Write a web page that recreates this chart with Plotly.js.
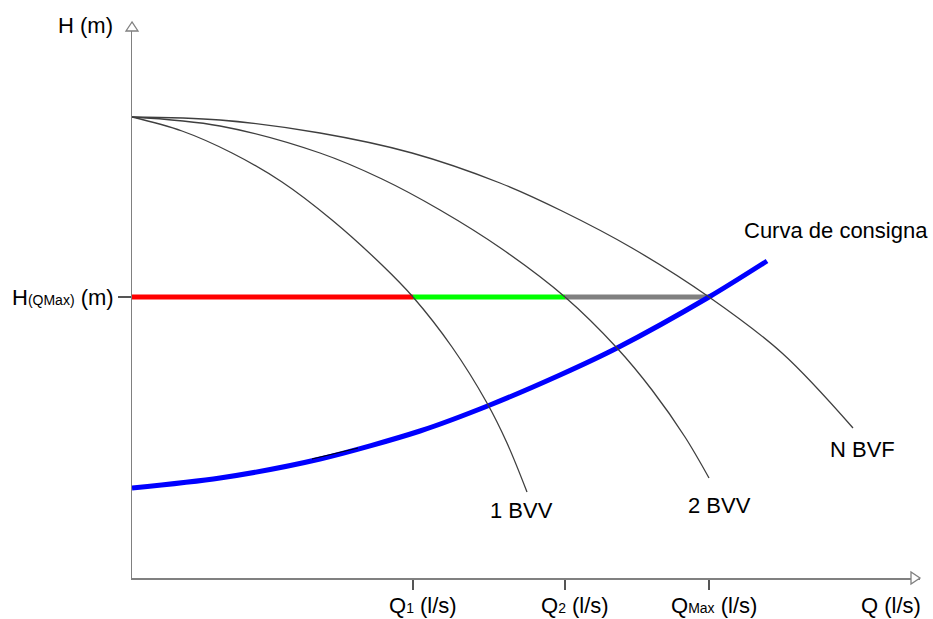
<!DOCTYPE html>
<html>
<head>
<meta charset="utf-8">
<script src="https://cdn.plot.ly/plotly-3.0.1.min.js"></script>
<style>
  html, body { margin: 0; padding: 0; background: #fff; }
  #chart { width: 933px; height: 619px; }
</style>
</head>
<body>
<div id="chart"></div>
<script>
// Operating point values (chart units)
const Q1 = 281;
const Q2 = 433;
const QMAX = 577;
const H_QMAX = 281;

// Pump curves: Q values and H values
const Q_1BVV = [0, 50, 100, 150, 200, 250, 281, 320, 355, 375, 395];
const H_1BVV = [461, 447, 425, 396, 358, 313, 281, 231, 175, 135, 86];

const Q_2BVV = [0, 88, 188, 250, 308, 370, 433, 485, 520, 553, 577];
const H_2BVV = [461, 452, 425, 399, 368, 329, 281, 230, 188, 141, 100];

const Q_NBVF = [0, 88, 188, 280, 368, 430, 500, 577, 650, 721];
const H_NBVF = [461, 458, 445, 425, 395, 367, 330, 281, 225, 150];

// Set-point curve (Curva de consigna)
const Q_CONS = [0, 88, 188, 288, 358, 428, 485, 577, 635];
const H_CONS = [90, 100, 119, 147, 173, 203, 230, 281, 317];

// small stray segment over the set-point curve
const Q_STRAY = [180, 226];
const H_STRAY = [119, 130];

// Horizontal H(QMax) segments
const SEG_RED = [0, Q1];
const SEG_GREEN = [Q1, Q2];
const SEG_GRAY = [Q2, QMAX];

const XTICK_VALS = [Q1, Q2, QMAX];
const YTICK_VALS = [H_QMAX];

const FONT = 'Liberation Sans, Arial, sans-serif';
const CURVE_COLOR = '#3f3f3f';
const AXIS_COLOR = '#808080';

const traces = [
  { x: SEG_RED, y: [H_QMAX, H_QMAX], mode: 'lines', line: { color: '#ff0000', width: 5 } },
  { x: SEG_GREEN, y: [H_QMAX, H_QMAX], mode: 'lines', line: { color: '#00ff00', width: 5 } },
  { x: SEG_GRAY, y: [H_QMAX, H_QMAX], mode: 'lines', line: { color: '#808080', width: 5 } },
  { x: Q_CONS, y: H_CONS, mode: 'lines', line: { color: '#0000ff', width: 5, shape: 'spline', smoothing: 0.8 } },
  { x: Q_STRAY, y: H_STRAY, mode: 'lines', line: { color: '#000000', width: 1 } },
  { x: Q_1BVV, y: H_1BVV, mode: 'lines', line: { color: CURVE_COLOR, width: 1.3, shape: 'spline', smoothing: 1 } },
  { x: Q_2BVV, y: H_2BVV, mode: 'lines', line: { color: CURVE_COLOR, width: 1.3, shape: 'spline', smoothing: 1 } },
  { x: Q_NBVF, y: H_NBVF, mode: 'lines', line: { color: CURVE_COLOR, width: 1.3, shape: 'spline', smoothing: 1 } }
];

const sub = (s) => "<span style='font-size:14px'>" + s + "</span>";
const labelFont = { family: FONT, size: 22, color: '#000000' };

const XSPAN = 788;

const annotations = [
  { xref: 'paper', yref: 'y', x: -47 / XSPAN, y: 553, text: 'H (m)', xanchor: 'center', yanchor: 'middle' },
  { xref: 'paper', yref: 'y', x: -16 / XSPAN, y: H_QMAX, text: 'H' + sub('(QMax)') + ' (m)', xanchor: 'right', yanchor: 'middle' },
  { xref: 'x', yref: 'y', x: 610, y: 348, text: 'Curva de consigna', xanchor: 'left', yanchor: 'middle' },
  { xref: 'x', yref: 'y', x: 389, y: 68, text: '1 BVV', xanchor: 'center', yanchor: 'middle' },
  { xref: 'x', yref: 'y', x: 587, y: 73, text: '2 BVV', xanchor: 'center', yanchor: 'middle' },
  { xref: 'x', yref: 'y', x: 730, y: 129, text: 'N BVF', xanchor: 'center', yanchor: 'middle' },
  { xref: 'x', yref: 'paper', x: Q1 + 10, y: -0.05, text: 'Q' + sub('1') + ' (l/s)', xanchor: 'center', yanchor: 'middle' },
  { xref: 'x', yref: 'paper', x: Q2 + 10, y: -0.05, text: 'Q' + sub('2') + ' (l/s)', xanchor: 'center', yanchor: 'middle' },
  { xref: 'x', yref: 'paper', x: QMAX + 5, y: -0.05, text: 'Q' + sub('Max') + ' (l/s)', xanchor: 'center', yanchor: 'middle' },
  { xref: 'x', yref: 'paper', x: 759, y: -0.05, text: 'Q (l/s)', xanchor: 'center', yanchor: 'middle' }
].map(a => Object.assign({ showarrow: false, font: labelFont }, a));

const shapes = [
  // y arrow head (open triangle)
  { type: 'path', xref: 'paper', yref: 'paper', layer: 'above',
    path: 'M 0 1 L -0.007614 0.98381 L 0.007614 0.98381 Z',
    fillcolor: '#ffffff', line: { color: AXIS_COLOR, width: 1.3 } },
  // x arrow head (open triangle)
  { type: 'path', xref: 'paper', yref: 'paper', layer: 'above',
    path: 'M 1 0 L 0.98858 0.010791 L 0.98858 -0.010791 Z',
    fillcolor: '#ffffff', line: { color: AXIS_COLOR, width: 1.3 } }
];

const layout = {
  width: 933,
  height: 619,
  margin: { l: 132, r: 13, t: 22, b: 41, pad: 0 },
  paper_bgcolor: '#ffffff',
  plot_bgcolor: '#ffffff',
  showlegend: false,
  font: { family: FONT, size: 22, color: '#000' },
  xaxis: {
    range: [0, XSPAN], showgrid: false, zeroline: false,
    showline: true, linecolor: AXIS_COLOR, linewidth: 1.5,
    tickmode: 'array', tickvals: XTICK_VALS, ticks: 'outside', ticklen: 10,
    tickwidth: 1.2, tickcolor: '#555555', showticklabels: false, fixedrange: true
  },
  yaxis: {
    range: [0, 556], showgrid: false, zeroline: false,
    showline: true, linecolor: AXIS_COLOR, linewidth: 1.5,
    tickmode: 'array', tickvals: YTICK_VALS, ticks: 'outside', ticklen: 13,
    tickwidth: 1.2, tickcolor: '#555555', showticklabels: false, fixedrange: true
  },
  annotations: annotations,
  shapes: shapes
};

Plotly.newPlot('chart', traces, layout, { staticPlot: true, displayModeBar: false });
</script>
</body>
</html>
